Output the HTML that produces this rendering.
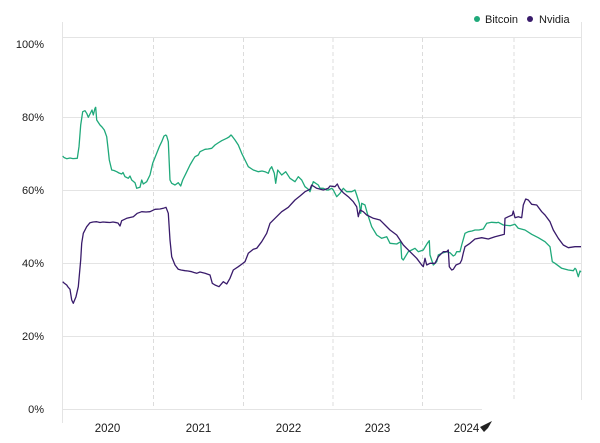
<!DOCTYPE html>
<html>
<head>
<meta charset="utf-8">
<style>
html,body{margin:0;padding:0;background:#fff;}
svg{display:block;}
text{font-family:"Liberation Sans",Arial,sans-serif;fill:#1a1a1a;}
</style>
</head>
<body>
<svg width="600" height="443" viewBox="0 0 600 443" xmlns="http://www.w3.org/2000/svg">
<rect width="600" height="443" fill="#fff"/>
<!-- axes frame -->
<line x1="62.5" y1="22" x2="62.5" y2="423" stroke="#e4e4e4" stroke-width="1"/>
<line x1="581.5" y1="22" x2="581.5" y2="405" stroke="#e4e4e4" stroke-width="1"/>
<!-- horizontal gridlines -->
<g stroke="#e4e4e4" stroke-width="1">
<line x1="62" y1="37.5" x2="581" y2="37.5"/>
<line x1="62" y1="117.5" x2="581" y2="117.5"/>
<line x1="62" y1="190.5" x2="581" y2="190.5"/>
<line x1="62" y1="263.5" x2="581" y2="263.5"/>
<line x1="62" y1="336.5" x2="581" y2="336.5"/>
<line x1="62" y1="409.5" x2="581" y2="409.5"/>
</g>
<!-- vertical dashed year lines -->
<g stroke="#dcdcdc" stroke-width="1" stroke-dasharray="4 3">
<line x1="153.5" y1="38" x2="153.5" y2="409"/>
<line x1="243.5" y1="38" x2="243.5" y2="409"/>
<line x1="333" y1="38" x2="333" y2="409"/>
<line x1="422.5" y1="38" x2="422.5" y2="409"/>
<line x1="514" y1="38" x2="514" y2="409"/>
</g>
<!-- y labels -->
<g font-size="11" text-anchor="end">
<text x="44" y="48">100%</text>
<text x="44" y="121">80%</text>
<text x="44" y="194">60%</text>
<text x="44" y="267">40%</text>
<text x="44" y="340">20%</text>
<text x="44" y="413">0%</text>
</g>
<!-- x labels -->
<g font-size="11.5" text-anchor="middle">
<text x="107.5" y="432">2020</text>
<text x="198.5" y="432">2021</text>
<text x="288.5" y="432">2022</text>
<text x="377.5" y="432">2023</text>
<text x="466.5" y="432">2024</text>
</g>
<!-- Bitcoin -->
<polyline fill="none" stroke="#1fa97a" stroke-width="1.3" stroke-linejoin="round" points="
62.7,156 64,157.5 66.7,158.7 70,158 73,158.6 77.3,158.3 79,146.7 80.7,125 82.7,111.7 85,110.7 86.7,113.3 88.3,117.3 90,114 92,110 93.3,115 95,108.3 95.7,107.3 96.7,120 100,125 102,127 104.3,130 106.7,136.7 108,148 109.3,160 111.7,170 114,170.5 116.7,171.7 119,173 121.7,174 123,172.5 125,176.7 128.3,178.3 130,176 131.7,180 135,182.7 136.7,188.3 140,187.3 141.7,180 143.3,184 146.7,181.7 150,175 152.7,163.3 156.7,153.3 159.3,146.7 161.7,141.7 164,136 165.7,135 166.7,136 168.3,141.7 170,180 171.7,183.3 175,185 178.3,182.7 180.7,186 182.7,180 186,173.3 190,165 193.3,159.3 195,156.7 198.3,155 200,151.7 205,149.3 208,149 211.7,148.3 215,145 218,143 221.7,140.7 226.7,138.3 229,137 231,135 232,136 235,140 238.3,145 241.7,153.3 245,160 248.3,166.7 253.3,170 258.3,171.7 262,171 265,171.7 268.3,173.3 270,169 271.7,166.7 274.3,173.3 275.7,183.3 277.7,170 281.7,175 285.7,171.7 290,178.3 295,181.7 298.3,176.7 301.7,180 305,186.7 308,189 310,191.7 313.3,181.7 318.3,185 320,188.3 323.3,188.3 326.7,190 328.3,190 331.7,188.3 333.3,190 336.7,196.7 340,193.3 343.3,188.3 346.7,191.7 351.7,191.7 355,190 356.7,195 359.3,203.3 360.7,213.3 361.7,203.3 365,205 367.3,213.3 371.7,226.7 376.7,235 381.7,238.3 386.7,236.7 390,243.3 396.7,244 400.7,241.7 401.7,258.3 403.3,260 408.3,251.7 411.7,250 415,248.3 418.3,251.7 423.3,250 427.3,243.3 429.3,240.7 430,255 433.3,265 436.7,261.7 438.3,255 441.7,253.3 446.7,251.7 450,252.7 453.3,256 455,255 456.7,251.7 460,251.7 461.7,245 465,233.3 468.3,231.7 472,231 475,230 479,230 483.3,229 486.7,223.3 491.7,222.3 496.7,222.7 498.3,222.3 503.3,225 510,225.7 515,224.3 518.3,228.3 525,230 531.7,234.3 538.3,237.7 545,241.7 550,246.7 552.3,261.7 555,263.3 561.7,268.3 568.3,270 573.3,270.7 575,268.3 576,269.3 578.3,276.7 580,271 581,272"/>
<!-- Nvidia -->
<polyline fill="none" stroke="#391b6b" stroke-width="1.3" stroke-linejoin="round" points="
62.7,281.7 64,283 66.7,285 68,287 70,289.3 71.7,300 73.3,303.3 76,296.7 78.3,286.7 80.7,260 81.7,243.3 83.3,233.3 86.7,226.7 90,222.7 93,222 96.7,221.7 100,222.5 103,222 106.7,222.3 110,222.5 113,222 116.7,222.7 118,223 120,226 121.7,220.7 126.7,218.3 130,217.5 133.3,216.7 137.3,213.3 141.7,211.7 146,212 150,211.7 155,209.3 160,209 163.3,208.3 166,207.3 168.3,213.3 170,240 171.7,256.7 175,265 178.3,269.3 181,270 185,270.7 188,271 191.7,271.7 194,272.5 196.7,273.3 200,272 205,273.3 210,275 212.3,283.3 215,285 219,286.7 223.3,281.7 226.7,284 230,278.3 233.3,270 238.3,266.7 242,264 245,261.7 248.3,253.3 253.3,249.3 256.7,248.3 261.7,241.7 266.7,233.3 270,223.3 275,218.3 281.7,211.7 288.3,207.3 295,200 300,196 305,191.7 310,189.3 311.7,185 316.7,188.3 323.3,190 328.3,188.3 330,186 335,186.7 337.3,184 339.3,188.3 343.3,192.7 348.3,196.7 353.3,201.7 356.7,206.7 358.3,216.7 360,210 363.3,211.7 366.7,215 373.3,218.3 380,220 385,225 390,230 396.7,235 400,240 403.3,245 410,251.7 416.7,258.3 421.7,265 423.3,266.7 425,258.3 426.7,265 430,263.3 435,263.3 438.3,256.7 443.3,251.7 446.7,251.7 448.3,250 449.3,266.7 451.7,270 453.3,269.3 456,265 460,263.3 461.7,260 463.3,253 465,246.7 470,243.3 475,239 481.7,237.7 488.3,239 495,236.7 501.7,235 504.3,234.3 505,218.3 508.3,216.7 512.3,215 513.3,211 515,217.7 518.3,216.7 521.7,217.7 523.3,205 525.7,199 528.3,200 531.7,204.3 536.7,205 541.7,211.7 545,215 550,221.7 553.3,230 558.3,238.3 563.3,245 568.3,247.7 575,246.7 581,246.7"/>
<!-- legend -->
<circle cx="477" cy="19" r="3" fill="#1fa97a"/>
<text x="485" y="23" font-size="11">Bitcoin</text>
<circle cx="530" cy="19" r="3" fill="#391b6b"/>
<text x="539" y="23" font-size="11">Nvidia</text>
<!-- watermark cover -->
<rect x="482" y="400" width="118" height="43" fill="#fff"/>
<polygon points="480,427 492,421 488,428 484,432" fill="#222"/>
</svg>
</body>
</html>
